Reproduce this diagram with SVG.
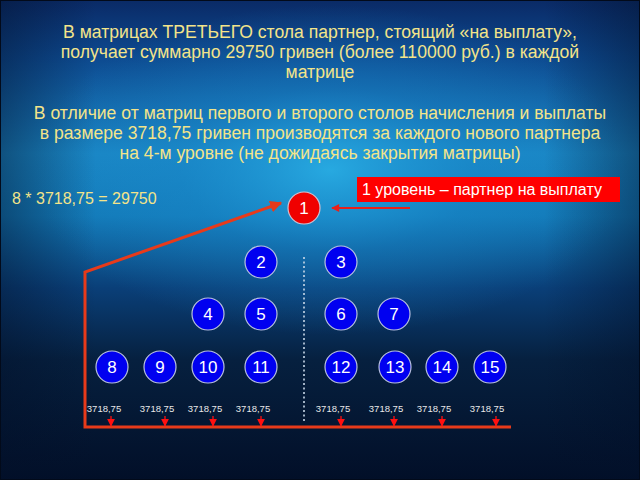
<svg xmlns="http://www.w3.org/2000/svg" width="640" height="480" viewBox="0 0 640 480">
<defs>
<linearGradient id="bg" x1="0" y1="0" x2="0" y2="1">
<stop offset="0" stop-color="#0a2a66"/>
<stop offset="0.12" stop-color="#0d4a90"/>
<stop offset="0.32" stop-color="#1a86c4"/>
<stop offset="0.45" stop-color="#137ab8"/>
<stop offset="0.6" stop-color="#0a3f78"/>
<stop offset="0.75" stop-color="#06203f"/>
<stop offset="1" stop-color="#020f28"/>
</linearGradient>
<radialGradient id="glow" cx="330" cy="170" r="300" gradientUnits="userSpaceOnUse" gradientTransform="translate(330 170) scale(1 0.55) translate(-330 -170)">
<stop offset="0" stop-color="#2ab0e6" stop-opacity="0.85"/>
<stop offset="0.5" stop-color="#1a8cd0" stop-opacity="0.35"/>
<stop offset="1" stop-color="#1a8cd0" stop-opacity="0"/>
</radialGradient>
<linearGradient id="side" x1="0" y1="0" x2="1" y2="0">
<stop offset="0" stop-color="#02102a" stop-opacity="0.45"/>
<stop offset="0.15" stop-color="#02102a" stop-opacity="0"/>
<stop offset="0.85" stop-color="#02102a" stop-opacity="0"/>
<stop offset="1" stop-color="#02102a" stop-opacity="0.45"/>
</linearGradient>
<marker id="ah" viewBox="0 0 10 10" refX="9" refY="5" markerWidth="4" markerHeight="4" orient="auto">
<path d="M0,0 L10,5 L0,10 z" fill="#e83a1a"/>
</marker>
<marker id="ahs" viewBox="0 0 10 10" refX="9" refY="5" markerWidth="6" markerHeight="6" orient="auto">
<path d="M0,0 L10,5 L0,10 z" fill="#ff1010"/>
</marker>
<marker id="ah2" viewBox="0 0 10 10" refX="9" refY="5" markerWidth="5" markerHeight="4" orient="auto">
<path d="M0,0 L10,5 L0,10 z" fill="#e8201a"/>
</marker>
</defs>
<style>
.t{font-family:"Liberation Sans",Arial,sans-serif;fill:#f3e48a;font-size:17.6px;text-anchor:middle}
.n{font-family:"Liberation Sans",Arial,sans-serif;fill:#ffffff;font-size:17px;text-anchor:middle}
.v{font-family:"Liberation Sans",Arial,sans-serif;fill:#e8e8e8;font-size:9.5px;text-anchor:middle}
.b{fill:#0000f0;stroke:#b8c0e0;stroke-width:1.2}
.r{fill:#f00000;stroke:#d0c0d0;stroke-width:1.2}
.ar{stroke:#ff1010;stroke-width:1.3;fill:none}
</style>
<rect width="640" height="480" fill="url(#bg)"/>
<rect width="640" height="480" fill="url(#glow)"/>
<rect width="640" height="480" fill="url(#side)"/>
<rect x="0.5" y="0.5" width="639" height="479" fill="none" stroke="#020a1a" stroke-width="1"/>

<g id="title">
<text class="t" x="320" y="38">В матрицах ТРЕТЬЕГО стола партнер, стоящий «на выплату»,</text>
<text class="t" x="320" y="58">получает суммарно 29750 гривен (более 110000 руб.) в каждой</text>
<text class="t" x="320" y="78">матрице</text>
<text class="t" x="320" y="119">В отличие от матриц первого и второго столов начисления и выплаты</text>
<text class="t" x="320" y="139">в размере 3718,75 гривен производятся за каждого нового партнера</text>
<text class="t" x="320" y="159">на 4-м уровне (не дожидаясь закрытия матрицы)</text>
</g>
<g id="formula">
<text class="t" x="12" y="204" style="text-anchor:start;font-size:16px">8 * 3718,75 = 29750</text>
</g>
<g id="label1">
<rect x="357" y="177" width="263" height="25" fill="#ff0000"/>
<text x="362" y="195" style="font-family:'Liberation Sans',Arial,sans-serif;font-size:16px;fill:#ffffff">1 уровень – партнер на выплату</text>
</g>

<g id="connectors">
<line x1="304" y1="257" x2="304" y2="421" stroke="#c8d8e8" stroke-width="1.6" stroke-dasharray="2,2.5"/>
<line x1="410" y1="208" x2="332" y2="208" stroke="#e8201a" stroke-width="2" marker-end="url(#ah2)"/>
<polyline points="511,427 85,427 85,272 281,203" fill="none" stroke="#e83a1a" stroke-width="3" marker-end="url(#ah)"/>
<line class="ar" x1="111" y1="416" x2="111" y2="426" marker-end="url(#ahs)"/>
<line class="ar" x1="165" y1="416" x2="165" y2="426" marker-end="url(#ahs)"/>
<line class="ar" x1="213" y1="416" x2="213" y2="426" marker-end="url(#ahs)"/>
<line class="ar" x1="261" y1="416" x2="261" y2="426" marker-end="url(#ahs)"/>
<line class="ar" x1="341" y1="416" x2="341" y2="426" marker-end="url(#ahs)"/>
<line class="ar" x1="394" y1="416" x2="394" y2="426" marker-end="url(#ahs)"/>
<line class="ar" x1="442" y1="416" x2="442" y2="426" marker-end="url(#ahs)"/>
<line class="ar" x1="496" y1="416" x2="496" y2="426" marker-end="url(#ahs)"/>
</g>

<g id="amounts">
<text class="v" x="104" y="412">3718,75</text>
<text class="v" x="157" y="412">3718,75</text>
<text class="v" x="205" y="412">3718,75</text>
<text class="v" x="253" y="412">3718,75</text>
<text class="v" x="333" y="412">3718,75</text>
<text class="v" x="386" y="412">3718,75</text>
<text class="v" x="434" y="412">3718,75</text>
<text class="v" x="487" y="412">3718,75</text>
</g>

<g id="n1"><circle class="r" cx="304" cy="208" r="16"/><text class="n" x="304" y="214">1</text></g>
<g id="n2"><circle class="b" cx="261" cy="262" r="16"/><text class="n" x="261" y="268">2</text></g>
<g id="n3"><circle class="b" cx="341" cy="262" r="16"/><text class="n" x="341" y="268">3</text></g>
<g id="n4"><circle class="b" cx="208" cy="314" r="16"/><text class="n" x="208" y="320">4</text></g>
<g id="n5"><circle class="b" cx="261" cy="314" r="16"/><text class="n" x="261" y="320">5</text></g>
<g id="n6"><circle class="b" cx="341" cy="314" r="16"/><text class="n" x="341" y="320">6</text></g>
<g id="n7"><circle class="b" cx="394" cy="314" r="16"/><text class="n" x="394" y="320">7</text></g>
<g id="n8"><circle class="b" cx="112" cy="367" r="16"/><text class="n" x="112" y="373">8</text></g>
<g id="n9"><circle class="b" cx="160" cy="367" r="16"/><text class="n" x="160" y="373">9</text></g>
<g id="n10"><circle class="b" cx="208" cy="367" r="16"/><text class="n" x="208" y="373">10</text></g>
<g id="n11"><circle class="b" cx="261" cy="367" r="16"/><text class="n" x="261" y="373">11</text></g>
<g id="n12"><circle class="b" cx="341" cy="367" r="16"/><text class="n" x="341" y="373">12</text></g>
<g id="n13"><circle class="b" cx="395" cy="367" r="16"/><text class="n" x="395" y="373">13</text></g>
<g id="n14"><circle class="b" cx="442" cy="367" r="16"/><text class="n" x="442" y="373">14</text></g>
<g id="n15"><circle class="b" cx="490" cy="367" r="16"/><text class="n" x="490" y="373">15</text></g>
</svg>
